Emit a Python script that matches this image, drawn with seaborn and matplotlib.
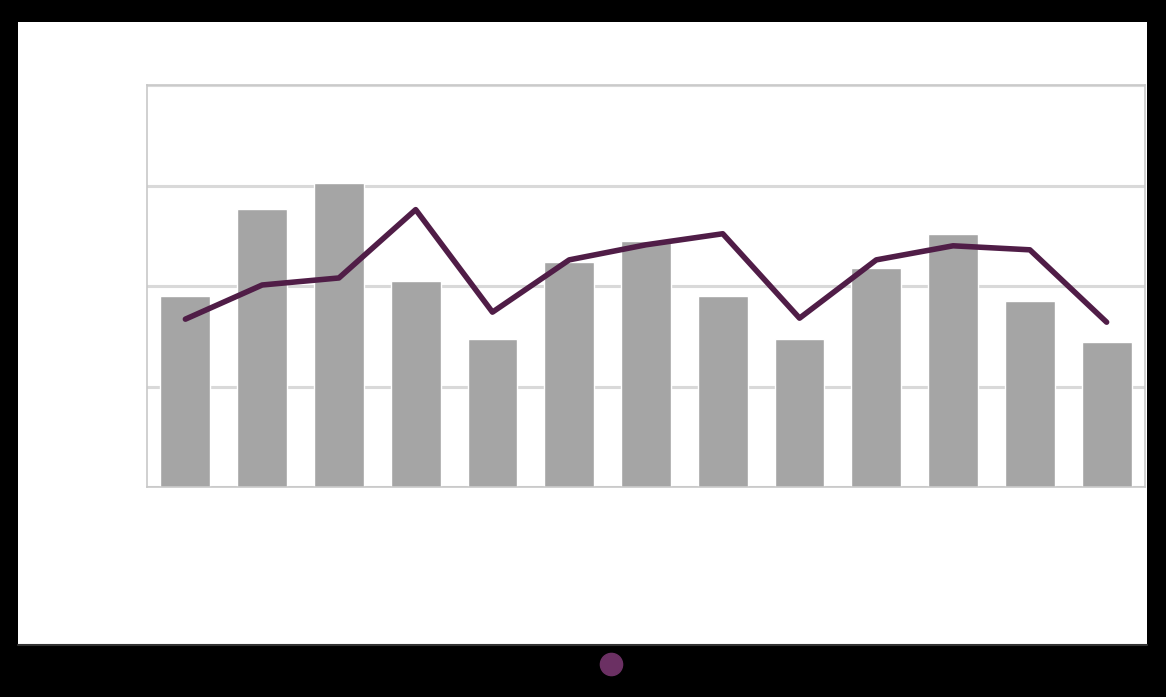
import matplotlib
matplotlib.use("Agg")
import matplotlib.pyplot as plt
from matplotlib.patches import Rectangle
from matplotlib.lines import Line2D
import seaborn as sns
import pandas as pd
import numpy as np

categories = ["1", "2", "3", "4", "5", "6", "7", "8", "9", "10", "11", "12", "13"]
bar_values = [1.90, 2.77, 3.02, 2.05, 1.47, 2.24, 2.45, 1.90, 1.47, 2.18, 2.52, 1.85, 1.44]
line_values = [1.67, 2.01, 2.08, 2.76, 1.74, 2.26, 2.41, 2.52, 1.68, 2.26, 2.40, 2.36, 1.64]
y_ticks = [0, 1, 2, 3, 4]

sns.set_theme(style="white")

W, H = 1166, 697
fig = plt.figure(figsize=(W / 100, H / 100), dpi=100)
fig.patch.set_facecolor("black")

# white panel
panel = Rectangle((18 / W, 1 - 645 / H), (1147 - 18) / W, (645 - 22) / H,
                  transform=fig.transFigure, facecolor="white", edgecolor="none", zorder=-10)
fig.add_artist(panel)
fig.add_artist(Line2D([18 / W, 1147 / W], [1 - 645 / H, 1 - 645 / H],
                      transform=fig.transFigure, color="#333333", lw=1.5, zorder=-5))

ax = fig.add_axes([147 / W, 1 - 487 / H, (1145 - 147) / W, (487 - 85) / H])
ax.set_zorder(5)
ax.set_facecolor("white")

df = pd.DataFrame({"cat": categories, "bar": bar_values, "line": line_values})

sns.barplot(data=df, x="cat", y="bar", color="#a5a5a5", saturation=1,
            width=0.65, ax=ax, zorder=2)
sns.lineplot(x=np.arange(len(categories)), y=df["line"].values, color="#501d47",
             linewidth=4.0, ax=ax, zorder=3)

ax.set_xlim(-0.5, len(categories) - 0.5)
ax.set_ylim(y_ticks[0], y_ticks[-1])
ax.set_yticks(y_ticks)
ax.set_axisbelow(True)
ax.yaxis.grid(True, color="#d9d9d9", linewidth=2.2)
ax.xaxis.grid(False)
ax.set_xlabel("")
ax.set_ylabel("")
ax.tick_params(axis="both", length=0, labelleft=False, labelbottom=False)
for side, sp in ax.spines.items():
    sp.set_visible(True)
    sp.set_color("#c8c8c8")
    sp.set_linewidth(1.2)

handle = Line2D([], [], linestyle="none", marker="o", markersize=16,
                markerfacecolor="#6b3063", markeredgecolor="#6b3063")
fig.legend([handle], [""], loc="center", bbox_to_anchor=(611 / W, 1 - 665 / H),
           frameon=False, handletextpad=0, borderpad=0, handlelength=1)

fig.savefig("out.png", dpi=100, facecolor=fig.get_facecolor())
